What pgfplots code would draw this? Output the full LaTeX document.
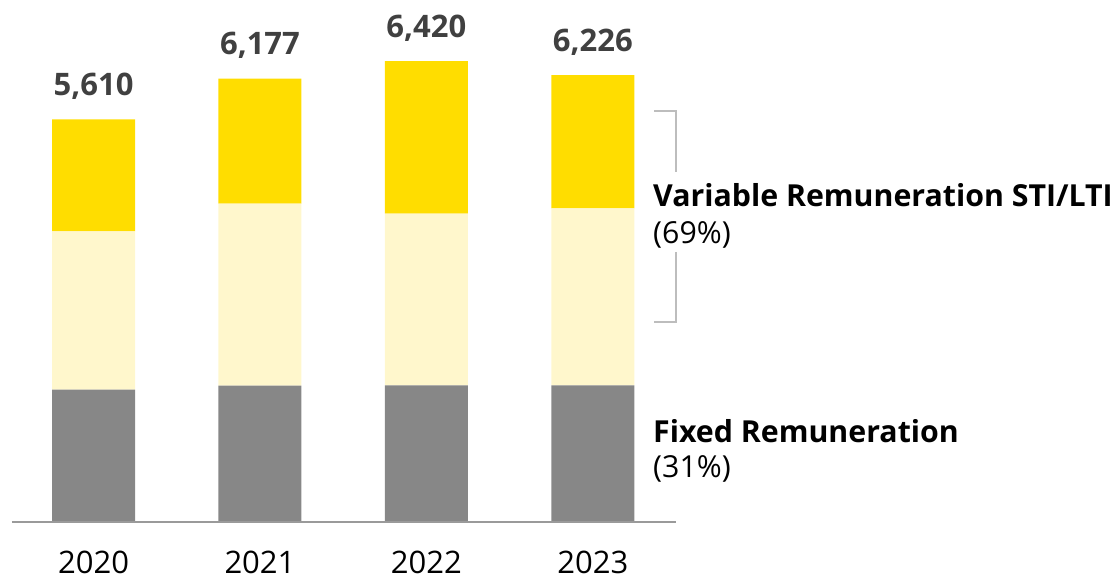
\documentclass[border=0pt]{standalone}
\usepackage{fontspec}
\setmainfont{Open Sans}
\usepackage{pgfplots}
\pgfplotsset{compat=1.18}
\usepackage{pgfplotstable}
\definecolor{fixgray}{HTML}{878787}
\definecolor{lightyel}{HTML}{FFF7CC}
\definecolor{yel}{HTML}{FFDD00}
\definecolor{labgray}{HTML}{404040}
\definecolor{axgray}{HTML}{9A9A9A}
\definecolor{brgray}{HTML}{BDBDBD}

\pgfplotstableread{
x fixed light top total
0 1843 2206 1561 5610
1 1899 2535 1743 6177
2 1904 2391 2125 6420
3 1904 2466 1856 6226
}\data

\begin{document}
\begin{tikzpicture}[x=1pt,y=1pt]
\path[use as bounding box] (0,0) rectangle (1117,579);
\begin{axis}[
  at={(12pt,57pt)}, anchor=south west,
  scale only axis, width=664pt, height=502.5pt,
  xmin=-0.49, xmax=3.5, ymin=0, ymax=7000,
  ybar stacked, bar width=83pt,
  axis x line=bottom, axis y line=none,
  axis on top,
  x axis line style={axgray, line width=2pt, -},
  xtick={0,1,2,3}, xticklabels={2020,2021,2022,2023},
  major tick length=0pt,
  xticklabel style={font=\fontsize{31}{37}\selectfont, text=black, anchor=base, inner sep=0pt, yshift=-51pt},
  clip=false,
]
\addplot+[fill=fixgray, draw=none] table[x=x,y=fixed]{\data};
\addplot+[fill=lightyel, draw=none] table[x=x,y=light]{\data};
\addplot+[fill=yel, draw=none] table[x=x,y=top]{\data};
\node[anchor=base, inner sep=0pt, font=\fontsize{31}{37}\selectfont\bfseries, text=labgray, yshift=24pt] at (axis cs:0,5610) {5,610};
\node[anchor=base, inner sep=0pt, font=\fontsize{31}{37}\selectfont\bfseries, text=labgray, yshift=24pt] at (axis cs:1,6177) {6,177};
\node[anchor=base, inner sep=0pt, font=\fontsize{31}{37}\selectfont\bfseries, text=labgray, yshift=24pt] at (axis cs:2,6420) {6,420};
\node[anchor=base, inner sep=0pt, font=\fontsize{31}{37}\selectfont\bfseries, text=labgray, yshift=24pt] at (axis cs:3,6226) {6,226};
\end{axis}
\draw[brgray, line width=1.2pt] (654,468) -- (676,468) -- (676,407);
\draw[brgray, line width=1.2pt] (676,327) -- (676,257) -- (654,257);
\node[anchor=base west, inner sep=0pt, font=\fontsize{30.3}{36}\selectfont\bfseries] at (653,372) {Variable Remuneration STI/LTI};
\node[anchor=base west, inner sep=0pt, font=\fontsize{30.3}{36}\selectfont] at (653,335) {(69\%)};
\node[anchor=base west, inner sep=0pt, font=\fontsize{30.3}{36}\selectfont\bfseries] at (653,137) {Fixed Remuneration};
\node[anchor=base west, inner sep=0pt, font=\fontsize{30.3}{36}\selectfont] at (653,102) {(31\%)};
\end{tikzpicture}
\end{document}
